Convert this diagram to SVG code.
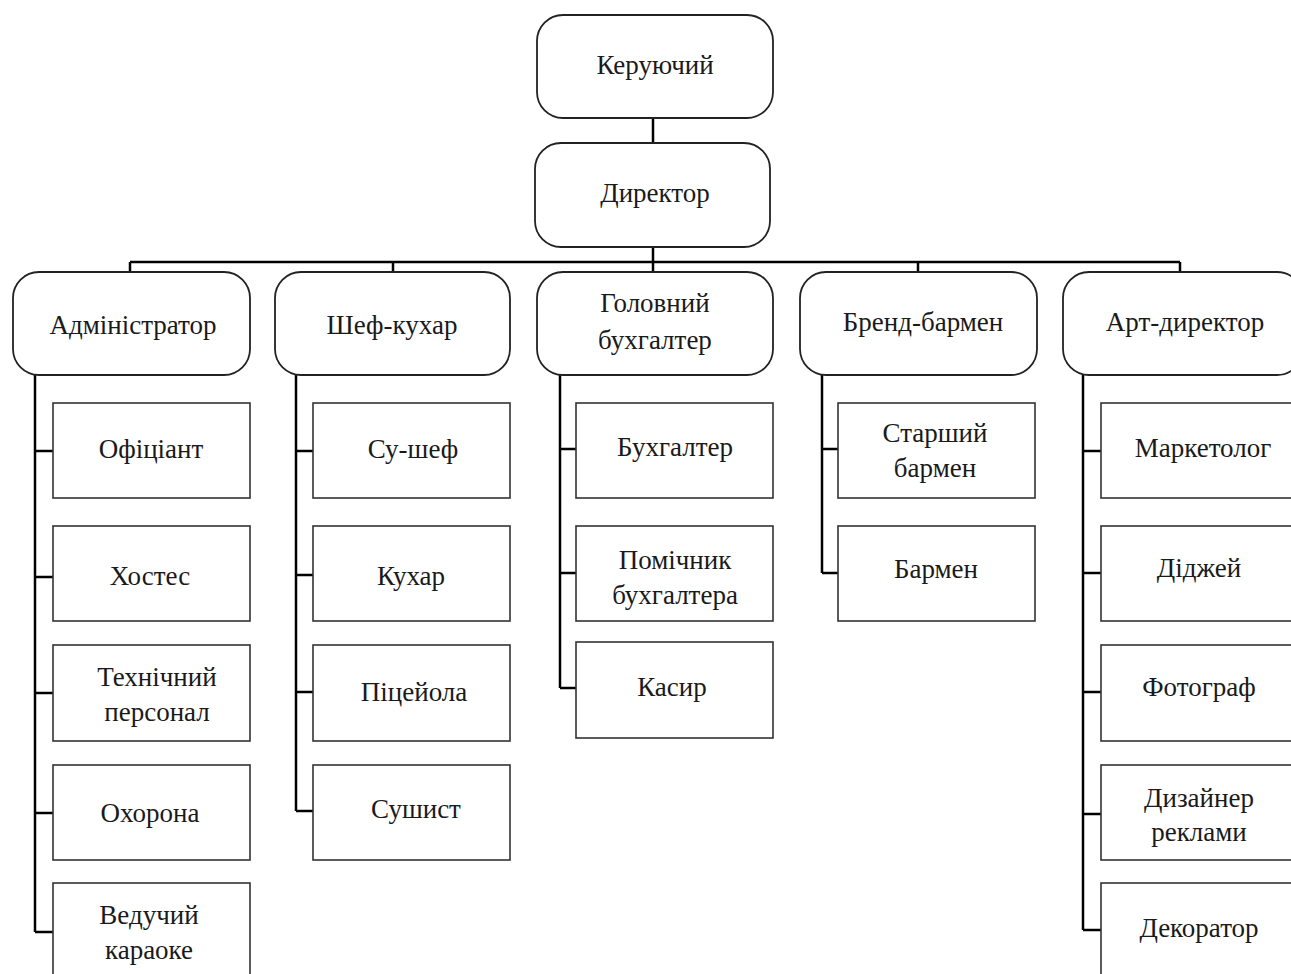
<svg xmlns="http://www.w3.org/2000/svg" width="1291" height="974" viewBox="0 0 1291 974">
<style>
.top{fill:#fff;stroke:#222;stroke-width:1.8}
.box{fill:#fff;stroke:#333;stroke-width:1.6}
.c{fill:none;stroke:#000;stroke-width:2.5}
text{font-family:"Liberation Serif","Times New Roman",serif;font-size:27px;fill:#1a1a1a;text-anchor:middle}
</style>
<rect width="1291" height="974" fill="#fff"/>
<g id="connectors">
<path class="c" d="M653 118V143M653 247V262M130 262H1180M130 262V272M393 262V272M653 262V272M918 262V272M1180 262V272"/>
<path class="c" d="M35 375V932M35 451H53M35 577H53M35 693H53M35 813H53M35 932H53"/>
<path class="c" d="M296 375V811M296 451H313M296 575H313M296 692H313M296 811H313"/>
<path class="c" d="M560 375V688M560 449H576M560 573H576M560 688H576"/>
<path class="c" d="M822 375V573M822 449H838M822 573H838"/>
<path class="c" d="M1083 375V930M1083 451H1101M1083 573H1101M1083 692H1101M1083 814H1101M1083 930H1101"/>
</g>
<g id="keruiuchyi"><rect class="top" x="537" y="15" width="236" height="103" rx="26"/><text x="655" y="74">Керуючий</text></g>
<g id="dyrektor"><rect class="top" x="535" y="143" width="235" height="104" rx="26"/><text x="655" y="202">Директор</text></g>
<g id="administrator"><rect class="top" x="13" y="272" width="237" height="103" rx="26"/><text x="133" y="334">Адміністратор</text></g>
<g id="shef-kukhar"><rect class="top" x="275" y="272" width="235" height="103" rx="26"/><text x="392" y="334">Шеф-кухар</text></g>
<g id="holovnyi-bukhhalter"><rect class="top" x="537" y="272" width="236" height="103" rx="26"/><text x="655" y="312">Головний</text><text x="655" y="349">бухгалтер</text></g>
<g id="brend-barmen"><rect class="top" x="800" y="272" width="237" height="103" rx="26"/><text x="923" y="331">Бренд-бармен</text></g>
<g id="art-dyrektor"><rect class="top" x="1063" y="272" width="240" height="103" rx="26"/><text x="1185" y="331">Арт-директор</text></g>

<g id="ofitsiant"><rect class="box" x="53" y="403" width="197" height="95"/><text x="151" y="458">Офіціант</text></g>
<g id="khostes"><rect class="box" x="53" y="526" width="197" height="95"/><text x="150" y="585">Хостес</text></g>
<g id="tekhnichnyi-personal"><rect class="box" x="53" y="645" width="197" height="96"/><text x="157" y="686">Технічний</text><text x="157" y="721">персонал</text></g>
<g id="okhorona"><rect class="box" x="53" y="765" width="197" height="95"/><text x="150" y="822">Охорона</text></g>
<g id="veduchyi-karaoke"><rect class="box" x="53" y="883" width="197" height="100"/><text x="149" y="924">Ведучий</text><text x="149" y="959">караоке</text></g>

<g id="su-shef"><rect class="box" x="313" y="403" width="197" height="95"/><text x="413" y="458">Су-шеф</text></g>
<g id="kukhar"><rect class="box" x="313" y="526" width="197" height="95"/><text x="411" y="585">Кухар</text></g>
<g id="pitseiola"><rect class="box" x="313" y="645" width="197" height="96"/><text x="414" y="701">Піцейола</text></g>
<g id="sushyst"><rect class="box" x="313" y="765" width="197" height="95"/><text x="416" y="818">Сушист</text></g>

<g id="bukhhalter"><rect class="box" x="576" y="403" width="197" height="95"/><text x="675" y="456">Бухгалтер</text></g>
<g id="pomichnyk-bukhhaltera"><rect class="box" x="576" y="526" width="197" height="95"/><text x="675" y="569">Помічник</text><text x="675" y="604">бухгалтера</text></g>
<g id="kasyr"><rect class="box" x="576" y="642" width="197" height="96"/><text x="672" y="696">Касир</text></g>

<g id="starshyi-barmen"><rect class="box" x="838" y="403" width="197" height="95"/><text x="935" y="442">Старший</text><text x="935" y="477">бармен</text></g>
<g id="barmen"><rect class="box" x="838" y="526" width="197" height="95"/><text x="936" y="578">Бармен</text></g>

<g id="marketoloh"><rect class="box" x="1101" y="403" width="200" height="95"/><text x="1203" y="457">Маркетолог</text></g>
<g id="didzhei"><rect class="box" x="1101" y="526" width="200" height="95"/><text x="1199" y="577">Діджей</text></g>
<g id="fotohraf"><rect class="box" x="1101" y="645" width="200" height="96"/><text x="1199" y="696">Фотограф</text></g>
<g id="dyzainer-reklamy"><rect class="box" x="1101" y="765" width="200" height="95"/><text x="1199" y="807">Дизайнер</text><text x="1199" y="841">реклами</text></g>
<g id="dekorator"><rect class="box" x="1101" y="883" width="200" height="100"/><text x="1199" y="937">Декоратор</text></g>
</svg>
